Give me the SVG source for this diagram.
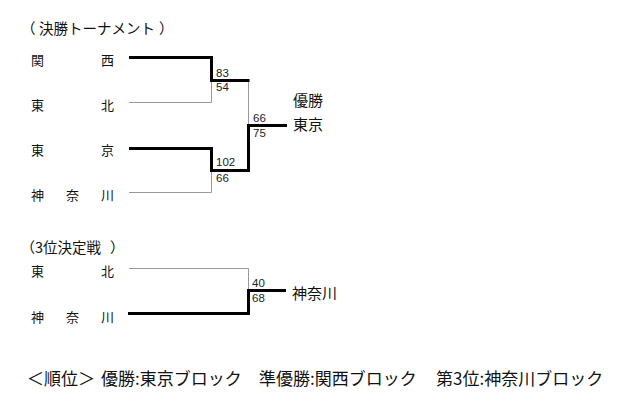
<svg xmlns="http://www.w3.org/2000/svg" width="624" height="401" viewBox="0 0 624 401">
<style>
text { font-family: "Noto Sans CJK JP", "Noto Sans", sans-serif; fill: #111; }
.team { font-size: 13px; }
.title { font-size: 14.5px; }
.win { font-size: 15px; }
.foot { font-size: 17px; }
.score { font-family: "Liberation Sans", Arial, sans-serif; font-size: 11.5px; fill: #222; }
.thick { fill: none; stroke: #000; stroke-width: 3; stroke-linejoin: miter; }
.thin { fill: none; stroke: #999; stroke-width: 1; }
</style>
<rect width="624" height="401" fill="#fff"/>

<g id="title-final"><text class="title" x="21 39" y="34">（決勝トーナメント<tspan x="159">）</tspan></text></g>
<g id="title-third"><text class="title" x="20.5 35" y="252.5">（3位決定戦<tspan x="110">）</tspan></text></g>

<g id="team-kansai"><text class="team" x="31 101" y="64.5">関西</text></g>
<g id="team-tohoku"><text class="team" x="31 101" y="110">東北</text></g>
<g id="team-tokyo"><text class="team" x="31 101" y="155">東京</text></g>
<g id="team-kanagawa"><text class="team" x="31 66 101" y="200">神奈川</text></g>

<g id="champion"><text class="win" x="293" y="106">優勝</text><text class="win" x="293" y="130">東京</text></g>

<g id="team-tohoku-3"><text class="team" x="31 101" y="276">東北</text></g>
<g id="team-kanagawa-3"><text class="team" x="31 66 101" y="321.5">神奈川</text></g>
<g id="third"><text class="win" x="292" y="298.5">神奈川</text></g>

<g id="connectors">
<path class="thin" d="M129 102.5 H211.5 V80.5"/>
<path class="thin" d="M129 192.5 H211.5 V170.5"/>
<path class="thin" d="M248.5 80.5 V125.5"/>
<path class="thick" d="M129 57.5 H211.5 V80.5 H249.5"/>
<path class="thick" d="M129 148.5 H211.5 V170.5 H248.5 V125.5 H287"/>
<path class="thin" d="M129 268.5 H248.5 V290.5"/>
<path class="thick" d="M128 313.5 H248.5 V290.5 H286"/>
</g>

<g id="scores">
<text class="score" x="216" y="76.5">83</text>
<text class="score" x="216" y="91">54</text>
<text class="score" x="253" y="121.5">66</text>
<text class="score" x="253" y="136.5">75</text>
<text class="score" x="216" y="166">102</text>
<text class="score" x="216" y="182">66</text>
<text class="score" x="252" y="287">40</text>
<text class="score" x="252" y="302">68</text>
</g>

<g id="ranking">
<text class="foot" x="27" y="385">＜順位＞</text>
<text class="foot" x="101" y="385">優勝:東京ブロック</text>
<text class="foot" x="259" y="385">準優勝:関西ブロック</text>
<text class="foot" x="436" y="385">第3位:神奈川ブロック</text>
</g>
</svg>
